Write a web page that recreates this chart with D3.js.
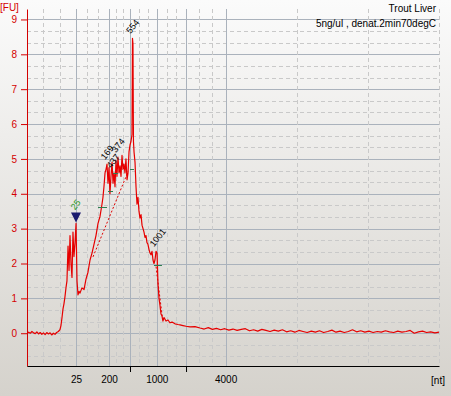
<!DOCTYPE html>
<html>
<head>
<meta charset="utf-8">
<script src="https://cdn.jsdelivr.net/npm/d3@7"></script>
<style>
  html, body { margin: 0; padding: 0; }
  body { width: 451px; height: 396px; overflow: hidden; }
  text { font-family: "Liberation Sans", Arial, sans-serif; }
</style>
</head>
<body>
<div class="chart"></div>
<script>
// electropherogram trace: migration time [s] and fluorescence [FU]
const timeS = [
  19.0, 19.2, 19.4, 19.6, 19.8, 20.0, 20.2, 20.4, 20.6, 20.8,
  21.0, 21.2, 21.4, 21.6, 21.8, 22.0, 22.2, 22.4, 22.6, 22.8,
  23.00, 23.12, 23.25, 23.37, 23.49, 23.61, 23.73, 23.85, 23.98, 24.10, 24.22, 24.34, 24.46,
  24.58, 24.70, 24.83, 24.95, 25.07, 25.19, 25.31, 25.43, 25.67, 25.92,
  26.16, 26.40, 26.65, 26.89, 27.13, 27.37, 27.62, 27.86, 28.10, 28.22,
  28.34, 28.47, 28.59, 28.71, 28.83, 28.95, 29.07, 29.19, 29.32, 29.44,
  29.56, 29.68, 29.80, 29.92, 30.04, 30.17, 30.29, 30.41, 30.53, 30.65,
  30.77, 30.89, 31.01, 31.14, 31.26, 31.38, 31.50, 31.62, 31.74, 31.80, 31.86, 31.92,
  31.99, 32.11, 32.23, 32.35, 32.47, 32.59, 32.71, 32.84, 32.96, 33.08,
  33.20, 33.32, 33.44, 33.56, 33.68, 33.81, 33.93, 34.05, 34.17, 34.29,
  34.41, 34.53, 34.66, 34.78, 34.90, 35.02, 35.14, 35.26, 35.38, 35.50,
  35.63, 35.75, 35.87, 36.11, 36.35, 36.60, 36.96, 37.33, 37.57, 37.93,
  38.30, 38.78, 39.39,
  40.0, 40.5, 41.0, 41.5, 42.0, 42.5, 43.0, 43.5, 44.0, 44.5,
  45.0, 45.5, 46.0, 46.5, 47.0, 47.5, 48.0, 48.5, 49.0, 49.5,
  50.0, 50.5, 51.0, 51.5, 52.0, 52.5, 53.0, 53.5, 54.0, 54.5,
  55.0, 55.5, 56.0, 56.5, 57.0, 57.5, 58.0, 58.5, 59.0, 59.5,
  60.0, 60.5, 61.0, 61.5, 62.0, 62.5, 63.0, 63.5, 64.0, 64.5,
  65.0, 65.5, 66.0, 66.5, 67.0, 67.5, 68.0, 68.5, 69.0
];
const fluor = [
  -0.02, 0.03, 0.00, 0.05, 0.01, -0.01, 0.04, -0.02, 0.02, -0.03,
  0.01, -0.04, 0.02, -0.02, 0.01, -0.05, 0.00, -0.03, 0.02, 0.05,
  0.10, 0.22, 0.45, 0.70, 0.85, 1.05, 1.30, 1.50, 2.50, 1.80, 2.80, 2.00, 1.60,
  2.90, 2.20, 2.60, 3.15, 1.50, 1.10, 1.20, 1.15, 1.30, 1.25,
  1.55, 1.75, 2.10, 2.30, 2.55, 2.80, 3.15, 3.35, 3.70, 3.90,
  4.20, 4.60, 4.70, 4.85, 4.30, 4.75, 4.00, 4.50, 4.90, 4.30,
  4.60, 4.20, 4.95, 4.50, 5.05, 4.60, 4.80, 4.50, 5.10, 4.70,
  4.85, 4.60, 5.00, 4.40, 4.60, 5.20, 5.40, 5.50, 5.70, 8.46, 8.30, 5.50,
  5.20, 4.90, 4.20, 3.70, 3.90, 3.50, 3.30, 3.40, 3.10, 3.00,
  2.90, 2.75, 2.80, 2.60, 2.55, 2.40, 2.30, 2.25, 2.35, 2.10,
  2.00, 2.10, 2.35, 2.30, 1.40, 1.00, 0.80, 0.55, 0.50, 0.35,
  0.45, 0.40, 0.35, 0.38, 0.30, 0.32, 0.27, 0.25, 0.24, 0.22,
  0.20, 0.18, 0.19,
  0.15, 0.12, 0.16, 0.11, 0.14, 0.10, 0.13, 0.09, 0.12, 0.08,
  0.11, 0.13, 0.07, 0.10, 0.06, 0.11, 0.08, 0.05, 0.09, 0.06,
  0.10, 0.04, 0.07, 0.03, 0.08, 0.05, 0.02, 0.06, 0.03, 0.07,
  0.02, 0.05, 0.09, 0.03, 0.06, 0.02, 0.05, 0.10, 0.04, 0.07,
  0.03, 0.06, 0.02, 0.05, 0.03, 0.07, 0.04, 0.02, 0.06, 0.03,
  0.05, 0.08, 0.00, 0.04, 0.06, 0.02, 0.04, 0.01, 0.03
];

// ladder (size standard) positions
const ladderNt = [25, 200, 500, 1000, 2000, 4000];
const ladderTime = [24.95, 28.95, 31.5, 34.75, 38.3, 43.1];
const ladderShown = [true, true, false, true, false, true];

// called peaks
const peakTime = [28.71, 29.44, 30.04, 31.80, 34.66];
const peakFU = [4.85, 4.6, 5.05, 8.46, 2.35];
const peakLabel = ["169", "437", "374", "554", "1001"];

// peak start/end bars and peak baselines
const barT0 = [27.62, 28.83, 29.44, 31.50, 34.41];
const barT1 = [28.71, 29.44, 30.04, 31.99, 35.38];
const barFU = [3.62, 4.08, 4.60, 4.72, 1.96];
const baseT0 = [27.01, 34.66];
const baseFU0 = [2.19, 1.91];
const baseT1 = [31.26, 35.46];
const baseFU1 = [4.63, 0.39];

// lower marker
const markerTime = 24.95, markerFU = 3.15, markerLabel = "25";

const title = "Trout Liver";
const subtitle = "5ng/ul , denat.2min70degC";

const W = 451, H = 396;
const svg = d3.select(".chart").append("svg")
  .attr("width", W).attr("height", H);

const grad = svg.append("defs").append("linearGradient")
  .attr("id", "bg").attr("x1", 0).attr("y1", 0).attr("x2", 0).attr("y2", 1);
grad.append("stop").attr("offset", "0%").attr("stop-color", "#fbfbfb");
grad.append("stop").attr("offset", "100%").attr("stop-color", "#d5d2cc");
svg.append("rect").attr("width", W).attr("height", H).attr("fill", "url(#bg)");

const x = d3.scaleLinear().domain([19, 69]).range([27, 439]);
const y = d3.scaleLinear().domain([-0.94, 9.3]).range([366, 9]);
const [y0, y1] = y.range();

// horizontal grid: solid per unit, dashed every third
const grid = svg.append("g");
d3.range(-2, 28).forEach(i => {
  const v = i / 3;
  grid.append("line")
    .attr("x1", 27).attr("x2", 439)
    .attr("y1", Math.round(y(v)) + 0.5).attr("y2", Math.round(y(v)) + 0.5)
    .attr("stroke", i % 3 === 0 ? "#aab2bc" : "#c9c9c9")
    .attr("stroke-dasharray", i % 3 === 0 ? null : "4,3");
});

// vertical grid: solid at ladder, dashed at thirds between
const edges = [19, ...ladderTime, 69];
const minor = [];
for (let i = 0; i < edges.length - 1; i++) {
  const a = edges[i], b = edges[i + 1];
  minor.push(a + (b - a) / 3, a + 2 * (b - a) / 3);
}
minor.push(69);
minor.forEach(t => {
  grid.append("line")
    .attr("x1", Math.round(x(t)) + 0.5).attr("x2", Math.round(x(t)) + 0.5)
    .attr("y1", y1).attr("y2", y0)
    .attr("stroke", "#c9c9c9").attr("stroke-dasharray", "4,3");
});
ladderTime.forEach(t => {
  grid.append("line")
    .attr("x1", Math.round(x(t)) + 0.5).attr("x2", Math.round(x(t)) + 0.5)
    .attr("y1", y1).attr("y2", y0)
    .attr("stroke", "#aab2bc");
});

// peak baselines (dashed)
svg.append("g").selectAll("line").data(baseT0).enter().append("line")
  .attr("x1", (d, i) => x(d)).attr("y1", (d, i) => y(baseFU0[i]))
  .attr("x2", (d, i) => x(baseT1[i])).attr("y2", (d, i) => y(baseFU1[i]))
  .attr("stroke", "#e00000").attr("stroke-dasharray", "2,2");

// trace
const trace = timeS.map((t, i) => [t, fluor[i]]);
svg.append("path")
  .datum(trace)
  .attr("fill", "none")
  .attr("stroke", "#e60000")
  .attr("stroke-width", 1.2)
  .attr("stroke-linejoin", "round")
  .attr("d", d3.line().x(d => x(d[0])).y(d => y(d[1])));

// peak start/end bars (green)
svg.append("g").selectAll("line").data(barT0).enter().append("line")
  .attr("x1", d => x(d)).attr("x2", (d, i) => x(barT1[i]))
  .attr("y1", (d, i) => Math.round(y(barFU[i])) + 0.5)
  .attr("y2", (d, i) => Math.round(y(barFU[i])) + 0.5)
  .attr("stroke", "#2e7d4f");

// y axis (red)
const yAxis = svg.append("g")
  .attr("transform", "translate(27,0)")
  .call(d3.axisLeft(y).tickValues(d3.range(0, 10)).tickSize(6).tickSizeOuter(0).tickPadding(4));
yAxis.select(".domain").attr("stroke", "#d40000");
yAxis.selectAll(".tick line").attr("stroke", "#d40000");
yAxis.selectAll(".tick text").attr("fill", "#d40000")
  .style("font-family", "Liberation Sans, Arial, sans-serif").style("font-size", "10px");

svg.append("text").attr("x", 0).attr("y", 11)
  .attr("fill", "#d40000").style("font-size", "10px").text("[FU]");

// x axis (black)
const xAxis = svg.append("g")
  .attr("transform", `translate(0,${y0})`)
  .call(d3.axisBottom(x).tickValues(ladderTime)
    .tickFormat((d, i) => ladderShown[i] ? ladderNt[i] : "")
    .tickSize(6).tickSizeOuter(0).tickPadding(4));
xAxis.select(".domain").attr("stroke", "#000");
xAxis.selectAll(".tick line").attr("stroke", "#000")
  .attr("y2", (d, i) => ladderShown[i] ? 0 : 6);
xAxis.selectAll(".tick text").attr("fill", "#000")
  .style("font-family", "Liberation Sans, Arial, sans-serif").style("font-size", "10px");

svg.append("text").attr("x", 445).attr("y", 384).attr("text-anchor", "end")
  .style("font-size", "10px").attr("fill", "#000").text("[nt]");

// peak labels
svg.append("g").selectAll("text").data(peakTime).enter().append("text")
  .attr("transform", (d, i) => `translate(${x(d) - 2},${y(peakFU[i]) - 4}) rotate(-52)`)
  .style("font-size", "9px").attr("fill", "#000")
  .text((d, i) => peakLabel[i]);

// lower marker
const mx = x(markerTime), my = y(markerFU);
svg.append("path")
  .attr("d", `M${mx - 5},${my - 11}L${mx + 5},${my - 11}L${mx},${my - 1}Z`)
  .attr("fill", "#1a1a6e");
svg.append("text")
  .attr("transform", `translate(${mx - 1},${my - 13}) rotate(-52)`)
  .style("font-size", "9px").attr("fill", "#1f9a1f").text(markerLabel);

// titles
svg.append("text").attr("x", 436).attr("y", 12).attr("text-anchor", "end")
  .style("font-size", "10px").attr("fill", "#000").text(title);
svg.append("text").attr("x", 436).attr("y", 27).attr("text-anchor", "end")
  .style("font-size", "10px").attr("fill", "#000").text(subtitle);
</script>
</body>
</html>
